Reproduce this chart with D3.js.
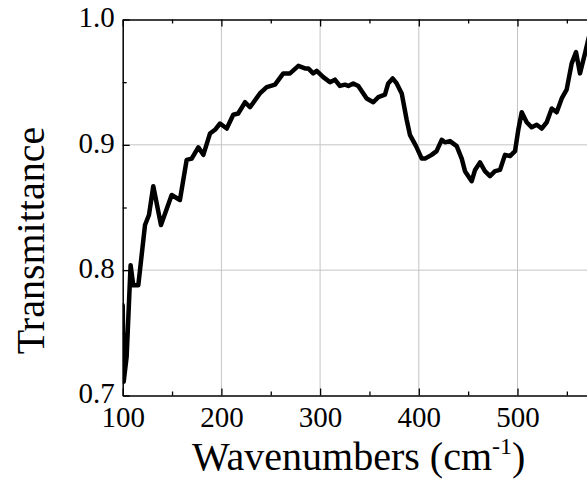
<!DOCTYPE html>
<html>
<head>
<meta charset="utf-8">
<script src="https://cdn.jsdelivr.net/npm/d3@7"></script>
<style>
    html, body { margin: 0; padding: 0; background: #fff; }
    #chart { width: 587px; height: 485px; overflow: hidden; }
    text { font-family: "Liberation Serif", "Times New Roman", serif; fill: #000; }
</style>
</head>
<body>
<div id="chart"></div>
<script>
// Spectrum
const wavenumbers = [100, 101, 104, 108, 110.7, 115.8, 122.6, 126.6, 131, 138.8, 149.6, 158,
    164.8, 169.9, 176.6, 181.7, 188.4, 193.5, 198.6, 205.4, 212, 217, 224, 229, 239, 245.9,
    254.3, 262.7, 269.5, 278, 284.7, 288, 293, 296.6, 303.2, 310, 315, 320, 325.2, 328.6,
    333.6, 338.7, 347.2, 353.9, 359, 365.7, 369, 373.5, 377.6, 382.7, 387.7, 391, 397.2,
    403, 406.3, 413, 418, 423.2, 426.5, 431.6, 438.4, 443.5, 446.8, 453.6, 457, 462, 467,
    472.1, 477.2, 482.3, 487.3, 492.4, 497.5, 500.8, 504.3, 509.3, 514.4, 519.5, 524.5,
    529.6, 534.7, 539.7, 544.8, 549.8, 554.9, 559.3, 563.3, 568.4, 572, 576];
const transmittance = [0.772, 0.711, 0.731, 0.804, 0.788, 0.788, 0.836, 0.844, 0.867, 0.836,
    0.860, 0.856, 0.888, 0.889, 0.898, 0.892, 0.909, 0.912, 0.917, 0.913, 0.924, 0.925,
    0.934, 0.930, 0.941, 0.946, 0.948, 0.957, 0.957, 0.963, 0.961, 0.961, 0.957, 0.959,
    0.954, 0.950, 0.952, 0.947, 0.948, 0.947, 0.949, 0.947, 0.937, 0.934, 0.938, 0.940,
    0.949, 0.953, 0.949, 0.941, 0.920, 0.908, 0.899, 0.889, 0.889, 0.892, 0.895, 0.904,
    0.902, 0.903, 0.899, 0.889, 0.879, 0.871, 0.880, 0.886, 0.879, 0.875, 0.879, 0.880,
    0.892, 0.891, 0.895, 0.912, 0.926, 0.918, 0.914, 0.916, 0.913, 0.918, 0.929, 0.926,
    0.937, 0.944, 0.965, 0.974, 0.957, 0.973, 0.985, 0.995];

const xTicks = [100, 200, 300, 400, 500];
const xMinorTicks = [150, 250, 350, 450, 550];
const yTicks = [0.7, 0.8, 0.9, 1.0];
const yMinorTicks = [0.75, 0.85, 0.95];

const width = 587, height = 485;
const margin = { top: 19.5, left: 122.7 };
const innerWidth = 493.5;   // plot runs past the right edge of the window
const innerHeight = 376;

const svg = d3.select('#chart')
    .append('svg')
    .attr('width', width)
    .attr('height', height);

const g = svg.append('g')
    .attr('transform', `translate(${margin.left},${margin.top})`);

const xScale = d3.scaleLinear().domain([100, 600]).range([0, innerWidth]);
const yScale = d3.scaleLinear().domain([0.7, 1.0]).range([innerHeight, 0]);

// Grid lines
g.append('g')
    .selectAll('line')
    .data(xTicks.slice(1))
    .enter()
    .append('line')
    .attr('x1', d => xScale(d)).attr('x2', d => xScale(d))
    .attr('y1', 0).attr('y2', innerHeight)
    .attr('stroke', '#c4c4c4').attr('stroke-width', 1);

g.append('g')
    .selectAll('line')
    .data(yTicks.slice(1, -1))
    .enter()
    .append('line')
    .attr('x1', 0).attr('x2', innerWidth)
    .attr('y1', d => yScale(d)).attr('y2', d => yScale(d))
    .attr('stroke', '#c4c4c4').attr('stroke-width', 1);

// Axes with inward ticks
function styleAxis(sel) {
    sel.select('.domain').attr('stroke', '#000').attr('stroke-width', 1.5);
    sel.selectAll('.tick line').attr('stroke', '#000').attr('stroke-width', 1.3);
    sel.selectAll('.tick text')
        .style('font-family', '"Liberation Serif", "Times New Roman", serif')
        .style('font-size', '29px')
        .attr('fill', '#000');
}

const xAxis = g.append('g')
    .attr('transform', `translate(0,${innerHeight})`)
    .call(d3.axisBottom(xScale).tickValues(xTicks).tickSize(-7).tickSizeOuter(0)
        .tickFormat(d3.format('d')))
    .call(styleAxis);
xAxis.selectAll('.tick text').attr('y', 11).attr('dy', '0.71em');

g.append('g')
    .attr('transform', `translate(0,${innerHeight})`)
    .call(d3.axisBottom(xScale).tickValues(xMinorTicks).tickSize(-4).tickSizeOuter(0).tickFormat(''))
    .call(styleAxis)
    .select('.domain').remove();

const yAxis = g.append('g')
    .call(d3.axisLeft(yScale).tickValues(yTicks).tickSize(-7).tickSizeOuter(0)
        .tickFormat(d3.format('.1f')))
    .call(styleAxis);
yAxis.selectAll('.tick text').attr('x', -8).attr('dy', '0.25em');

g.append('g')
    .call(d3.axisLeft(yScale).tickValues(yMinorTicks).tickSize(-4).tickSizeOuter(0).tickFormat(''))
    .call(styleAxis)
    .select('.domain').remove();

// Top axis line with ticks pointing down
g.append('g')
    .call(d3.axisTop(xScale).tickValues(xTicks).tickSize(-7).tickSizeOuter(0).tickFormat(''))
    .call(styleAxis);
g.append('g')
    .call(d3.axisTop(xScale).tickValues(xMinorTicks).tickSize(-4).tickSizeOuter(0).tickFormat(''))
    .call(styleAxis)
    .select('.domain').remove();

// Axis labels
g.append('text')
    .attr('transform', 'rotate(-90)')
    .attr('x', -(innerHeight / 2) - 33)
    .attr('y', -margin.left + 44)
    .style('text-anchor', 'middle')
    .style('font-size', '40px')
    .text('Transmittance');

const xLabel = g.append('text')
    .attr('x', 236)
    .attr('y', 470 - margin.top)
    .style('text-anchor', 'middle')
    .style('font-size', '40px');
xLabel.append('tspan').text('Wavenumbers (cm');
xLabel.append('tspan').attr('dy', -16).style('font-size', '24px').text('-1');
xLabel.append('tspan').attr('dy', 16).text(')');

// Spectrum line
svg.append('defs').append('clipPath').attr('id', 'plot-clip')
    .append('rect')
    .attr('x', 0).attr('y', -4)
    .attr('width', innerWidth).attr('height', innerHeight + 4);

const points = wavenumbers.map((w, i) => ({ x: w, y: transmittance[i] }));

g.append('path')
    .datum(points)
    .attr('clip-path', 'url(#plot-clip)')
    .attr('fill', 'none')
    .attr('stroke', '#000')
    .attr('stroke-width', 4.5)
    .attr('stroke-linejoin', 'round')
    .attr('stroke-linecap', 'round')
    .attr('d', d3.line().x(d => xScale(d.x)).y(d => yScale(d.y)));
</script>
</body>
</html>
